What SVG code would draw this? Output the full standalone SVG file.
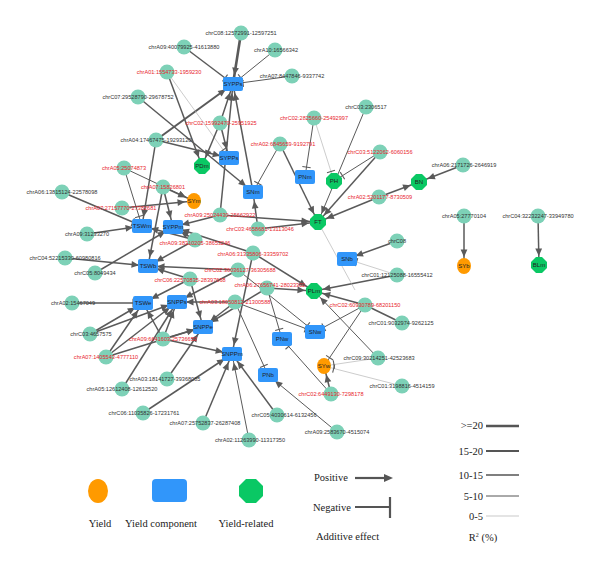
<svg xmlns="http://www.w3.org/2000/svg" width="600" height="569" viewBox="0 0 600 569">
<style>
.e{fill:none;stroke:#5a5a5a}
.w1{stroke-width:0.6;stroke:#aaa}
.w2{stroke-width:1}
.w3{stroke-width:1.5}
.w4{stroke-width:2}
.w5{stroke-width:2.6}
.q{fill:#7dd1b7}
.t{fill:#3196fa}
.g{fill:#0ac864}
.o{fill:#ff9a00}
.lb{font-family:"Liberation Sans",Arial,sans-serif;font-size:5.6px;fill:#333;text-anchor:middle}
.red{fill:#e8242c}
.nl{font-family:"Liberation Sans",Arial,sans-serif;font-size:6px;fill:#222;text-anchor:middle}
.lg{font-family:"Liberation Serif","Times New Roman",serif;font-size:10.5px;fill:#222}
</style>
<defs>
<marker id="ar" markerUnits="userSpaceOnUse" viewBox="-8 -4 20 8" markerWidth="20" markerHeight="8" refX="9" refY="0" orient="auto"><path d="M-7.5,-3.4 L0,0 L-7.5,3.4 Z" fill="#5a5a5a"/></marker>
<marker id="tb" markerUnits="userSpaceOnUse" viewBox="-2 -5 14 10" markerWidth="14" markerHeight="10" refX="10" refY="0" orient="auto"><path d="M0,-4.2 L0,4.2" stroke="#5a5a5a" stroke-width="1.1"/></marker>
</defs>
<g id="connectors">
<line class="e w5" x1="241" y1="33" x2="233" y2="84" marker-end="url(#ar)"/>
<line class="e w3" x1="184" y1="47" x2="233" y2="84" marker-end="url(#tb)"/>
<line class="e w2" x1="275" y1="50" x2="233" y2="84" marker-end="url(#tb)"/>
<line class="e w2" x1="292" y1="76" x2="233" y2="84" marker-end="url(#tb)"/>
<line class="e w4" x1="156" y1="140" x2="233" y2="84" marker-end="url(#ar)"/>
<line class="e w3" x1="220" y1="123" x2="233" y2="84" marker-end="url(#ar)"/>
<line class="e w3" x1="253" y1="192" x2="233" y2="84" marker-end="url(#ar)"/>
<line class="e w3" x1="220" y1="215" x2="233" y2="84" marker-end="url(#ar)"/>
<line class="e w1" x1="167" y1="72" x2="229" y2="158" marker-end="url(#tb)"/>
<line class="e w3" x1="167" y1="72" x2="202" y2="166" marker-end="url(#ar)"/>
<line class="e w3" x1="138" y1="97" x2="253" y2="192" marker-end="url(#ar)"/>
<line class="e w3" x1="156" y1="140" x2="142" y2="226" marker-end="url(#ar)"/>
<line class="e w3" x1="156" y1="140" x2="229" y2="158" marker-end="url(#ar)"/>
<line class="e w3" x1="220" y1="123" x2="202" y2="166" marker-end="url(#ar)"/>
<line class="e w3" x1="220" y1="123" x2="229" y2="158" marker-end="url(#ar)"/>
<line class="e w2" x1="280" y1="144" x2="253" y2="192" marker-end="url(#tb)"/>
<line class="e w3" x1="280" y1="144" x2="318" y2="222" marker-end="url(#ar)"/>
<line class="e w1" x1="314" y1="118" x2="334" y2="181" marker-end="url(#tb)"/>
<line class="e w2" x1="314" y1="118" x2="305" y2="177" marker-end="url(#tb)"/>
<line class="e w2" x1="366" y1="107" x2="318" y2="222" marker-end="url(#ar)"/>
<line class="e w2" x1="380" y1="152" x2="334" y2="181" marker-end="url(#tb)"/>
<line class="e w3" x1="380" y1="152" x2="318" y2="222" marker-end="url(#ar)"/>
<line class="e w3" x1="379" y1="197" x2="419" y2="182" marker-end="url(#ar)"/>
<line class="e w3" x1="379" y1="197" x2="318" y2="222" marker-end="url(#ar)"/>
<line class="e w3" x1="463" y1="165" x2="419" y2="182" marker-end="url(#ar)"/>
<line class="e w3" x1="464" y1="216" x2="464" y2="266" marker-end="url(#ar)"/>
<line class="e w3" x1="538" y1="216" x2="539" y2="265" marker-end="url(#ar)"/>
<line class="e w3" x1="397" y1="241" x2="347" y2="259" marker-end="url(#ar)"/>
<line class="e w3" x1="397" y1="275" x2="314" y2="291" marker-end="url(#ar)"/>
<line class="e w1" x1="397" y1="275" x2="347" y2="259" marker-end="url(#tb)"/>
<line class="e w2" x1="124" y1="168" x2="142" y2="226" marker-end="url(#tb)"/>
<line class="e w2" x1="124" y1="168" x2="194" y2="201" marker-end="url(#ar)"/>
<line class="e w3" x1="62" y1="192" x2="142" y2="226" marker-end="url(#tb)"/>
<line class="e w3" x1="122" y1="208" x2="194" y2="201" marker-end="url(#ar)"/>
<line class="e w3" x1="163" y1="187" x2="173" y2="227" marker-end="url(#ar)"/>
<line class="e w3" x1="163" y1="187" x2="194" y2="201" marker-end="url(#ar)"/>
<line class="e w3" x1="163" y1="187" x2="148" y2="266" marker-end="url(#ar)"/>
<line class="e w3" x1="87" y1="234" x2="142" y2="226" marker-end="url(#ar)"/>
<line class="e w3" x1="65" y1="258" x2="148" y2="266" marker-end="url(#ar)"/>
<line class="e w3" x1="95" y1="273" x2="173" y2="227" marker-end="url(#ar)"/>
<line class="e w3" x1="220" y1="215" x2="318" y2="222" marker-end="url(#ar)"/>
<line class="e w3" x1="220" y1="215" x2="173" y2="227" marker-end="url(#ar)"/>
<line class="e w3" x1="258" y1="229" x2="318" y2="222" marker-end="url(#ar)"/>
<line class="e w3" x1="258" y1="229" x2="253" y2="192" marker-end="url(#ar)"/>
<line class="e w3" x1="195" y1="240" x2="173" y2="227" marker-end="url(#ar)"/>
<line class="e w3" x1="195" y1="240" x2="142" y2="226" marker-end="url(#ar)"/>
<line class="e w3" x1="195" y1="240" x2="148" y2="266" marker-end="url(#ar)"/>
<line class="e w3" x1="253" y1="253" x2="173" y2="227" marker-end="url(#ar)"/>
<line class="e w3" x1="253" y1="253" x2="232" y2="354" marker-end="url(#ar)"/>
<line class="e w3" x1="253" y1="253" x2="314" y2="291" marker-end="url(#ar)"/>
<line class="e w3" x1="238" y1="270" x2="177" y2="302" marker-end="url(#ar)"/>
<line class="e w3" x1="238" y1="270" x2="148" y2="266" marker-end="url(#ar)"/>
<line class="e w2" x1="238" y1="270" x2="315" y2="332" marker-end="url(#tb)"/>
<line class="e w3" x1="190" y1="279" x2="148" y2="266" marker-end="url(#ar)"/>
<line class="e w3" x1="190" y1="279" x2="143" y2="303" marker-end="url(#ar)"/>
<line class="e w3" x1="190" y1="279" x2="203" y2="327" marker-end="url(#ar)"/>
<line class="e w3" x1="267" y1="288" x2="314" y2="291" marker-end="url(#ar)"/>
<line class="e w2" x1="267" y1="288" x2="282" y2="339" marker-end="url(#tb)"/>
<line class="e w3" x1="267" y1="288" x2="203" y2="327" marker-end="url(#ar)"/>
<line class="e w3" x1="235" y1="302" x2="177" y2="302" marker-end="url(#ar)"/>
<line class="e w3" x1="235" y1="302" x2="203" y2="327" marker-end="url(#ar)"/>
<line class="e w2" x1="235" y1="302" x2="315" y2="332" marker-end="url(#tb)"/>
<line class="e w2" x1="235" y1="302" x2="268" y2="375" marker-end="url(#tb)"/>
<line class="e w3" x1="72" y1="303" x2="143" y2="303" marker-end="url(#tb)"/>
<line class="e w3" x1="90" y1="334" x2="143" y2="303" marker-end="url(#ar)"/>
<line class="e w3" x1="90" y1="334" x2="177" y2="302" marker-end="url(#ar)"/>
<line class="e w3" x1="163" y1="339" x2="143" y2="303" marker-end="url(#ar)"/>
<line class="e w3" x1="163" y1="339" x2="177" y2="302" marker-end="url(#ar)"/>
<line class="e w3" x1="163" y1="339" x2="203" y2="327" marker-end="url(#ar)"/>
<line class="e w3" x1="163" y1="339" x2="232" y2="354" marker-end="url(#ar)"/>
<line class="e w3" x1="106" y1="357" x2="143" y2="303" marker-end="url(#ar)"/>
<line class="e w3" x1="106" y1="357" x2="177" y2="302" marker-end="url(#ar)"/>
<line class="e w3" x1="106" y1="357" x2="203" y2="327" marker-end="url(#ar)"/>
<line class="e w3" x1="122" y1="389" x2="177" y2="302" marker-end="url(#ar)"/>
<line class="e w3" x1="167" y1="379" x2="203" y2="327" marker-end="url(#ar)"/>
<line class="e w3" x1="143" y1="413" x2="232" y2="354" marker-end="url(#ar)"/>
<line class="e w3" x1="203" y1="423" x2="232" y2="354" marker-end="url(#ar)"/>
<line class="e w2" x1="249" y1="440" x2="232" y2="354" marker-end="url(#ar)"/>
<line class="e w3" x1="277" y1="415" x2="232" y2="354" marker-end="url(#ar)"/>
<line class="e w2" x1="337" y1="432" x2="268" y2="375" marker-end="url(#ar)"/>
<line class="e w3" x1="331" y1="394" x2="324" y2="366" marker-end="url(#ar)"/>
<line class="e w2" x1="331" y1="394" x2="282" y2="339" marker-end="url(#tb)"/>
<line class="e w1" x1="402" y1="386" x2="324" y2="366" marker-end="url(#tb)"/>
<line class="e w2" x1="378" y1="358" x2="314" y2="291" marker-end="url(#ar)"/>
<line class="e w1" x1="378" y1="358" x2="324" y2="366" marker-end="url(#tb)"/>
<line class="e w3" x1="365" y1="305" x2="314" y2="291" marker-end="url(#ar)"/>
<line class="e w2" x1="365" y1="305" x2="315" y2="332" marker-end="url(#tb)"/>
<line class="e w2" x1="365" y1="305" x2="324" y2="366" marker-end="url(#tb)"/>
<line class="e w3" x1="402" y1="323" x2="365" y2="305"/>
<line class="e w1" x1="318" y1="222" x2="355" y2="290"/>
</g>
<g id="nodes">
<g id="q1"><circle class="q" cx="184" cy="47" r="7.5"/><text class="lb" x="184" y="49">chrA09:40079925-41613880</text></g>
<g id="q2"><circle class="q" cx="241" cy="33" r="7.5"/><text class="lb" x="241" y="35">chrC08:12572991-12597251</text></g>
<g id="q3"><circle class="q" cx="275" cy="50" r="7.5"/><text class="lb" x="276" y="52">chrA10:16566342</text></g>
<g id="q4"><circle class="q" cx="292" cy="76" r="7.5"/><text class="lb" x="292" y="78">chrA07:8447846-9337742</text></g>
<g id="q5"><circle class="q" cx="167" cy="72" r="7.5"/><text class="lb red" x="169" y="74">chrA01:1554733-1959230</text></g>
<g id="q6"><circle class="q" cx="138" cy="97" r="7.5"/><text class="lb" x="138" y="99">chrC07:29528790-29678752</text></g>
<g id="q7"><circle class="q" cx="220" cy="123" r="7.5"/><text class="lb red" x="221" y="125">chrC02:15992470-25951925</text></g>
<g id="q8"><circle class="q" cx="314" cy="118" r="7.5"/><text class="lb red" x="314" y="120">chrC02:2825660-25492997</text></g>
<g id="q9"><circle class="q" cx="366" cy="107" r="7.5"/><text class="lb" x="366" y="109">chrC03:2306517</text></g>
<g id="q10"><circle class="q" cx="156" cy="140" r="7.5"/><text class="lb" x="156" y="142">chrA04:17467475-19293120</text></g>
<g id="q11"><circle class="q" cx="280" cy="144" r="7.5"/><text class="lb red" x="283" y="146">chrA02:6845659-9192791</text></g>
<g id="q12"><circle class="q" cx="380" cy="152" r="7.5"/><text class="lb red" x="380" y="154">chrC03:5122062-6060156</text></g>
<g id="q13"><circle class="q" cx="463" cy="165" r="7.5"/><text class="lb" x="464" y="167">chrA06:2171726-2646919</text></g>
<g id="q14"><circle class="q" cx="124" cy="168" r="7.5"/><text class="lb red" x="124" y="170">chrA05:25074873</text></g>
<g id="q15"><circle class="q" cx="163" cy="187" r="7.5"/><text class="lb red" x="163" y="189">chrA07:15826801</text></g>
<g id="q16"><circle class="q" cx="62" cy="192" r="7.5"/><text class="lb" x="62" y="194">chrA06:13815124-22578098</text></g>
<g id="q17"><circle class="q" cx="379" cy="197" r="7.5"/><text class="lb red" x="380" y="199">chrA02:5201177-8730509</text></g>
<g id="q18"><circle class="q" cx="122" cy="208" r="7.5"/><text class="lb red" x="121" y="210">chrA07:27157770-27382681</text></g>
<g id="q19"><circle class="q" cx="220" cy="215" r="7.5"/><text class="lb red" x="220" y="217">chrA09:25024430-25662922</text></g>
<g id="q20"><circle class="q" cx="464" cy="216" r="7.5"/><text class="lb" x="464" y="218">chrA05:27770104</text></g>
<g id="q21"><circle class="q" cx="538" cy="216" r="7.5"/><text class="lb" x="538" y="218">chrC04:32232247-33949780</text></g>
<g id="q22"><circle class="q" cx="258" cy="229" r="7.5"/><text class="lb red" x="260" y="231">chrC03:4658681-13113046</text></g>
<g id="q23"><circle class="q" cx="87" cy="234" r="7.5"/><text class="lb" x="87" y="236">chrA09:31233270</text></g>
<g id="q24"><circle class="q" cx="195" cy="240" r="7.5"/><text class="lb red" x="195" y="245">chrA09:38310205-38653246</text></g>
<g id="q25"><circle class="q" cx="397" cy="241" r="7.5"/><text class="lb" x="397" y="243">chrC08</text></g>
<g id="q26"><circle class="q" cx="253" cy="253" r="7.5"/><text class="lb red" x="253" y="256">chrA06:31335806-33359702</text></g>
<g id="q27"><circle class="q" cx="65" cy="258" r="7.5"/><text class="lb" x="65" y="260">chrC04:52215330-60980816</text></g>
<g id="q28"><circle class="q" cx="95" cy="273" r="7.5"/><text class="lb" x="95" y="275">chrC05:8049434</text></g>
<g id="q29"><circle class="q" cx="238" cy="270" r="7.5"/><text class="lb red" x="240" y="272">chrC02:36036127-36305688</text></g>
<g id="q30"><circle class="q" cx="397" cy="275" r="7.5"/><text class="lb" x="397" y="277">chrC01:12125088-16555412</text></g>
<g id="q31"><circle class="q" cx="190" cy="279" r="7.5"/><text class="lb red" x="190" y="282">chrC06:22570835-28397668</text></g>
<g id="q32"><circle class="q" cx="267" cy="288" r="7.5"/><text class="lb red" x="270" y="287">chrA06:27656741-28023302</text></g>
<g id="q33"><circle class="q" cx="72" cy="303" r="7.5"/><text class="lb" x="73" y="305">chrA02:15467049</text></g>
<g id="q34"><circle class="q" cx="235" cy="302" r="7.5"/><text class="lb red" x="235" y="304">chrA03:18050812-21300588</text></g>
<g id="q35"><circle class="q" cx="365" cy="305" r="7.5"/><text class="lb red" x="365" y="307">chrC02:60930789-68201150</text></g>
<g id="q36"><circle class="q" cx="402" cy="323" r="7.5"/><text class="lb" x="401" y="325">chrC01:9032974-9262125</text></g>
<g id="q37"><circle class="q" cx="90" cy="334" r="7.5"/><text class="lb" x="91" y="336">chrC03:4657575</text></g>
<g id="q38"><circle class="q" cx="163" cy="339" r="7.5"/><text class="lb red" x="163" y="341">chrA09:6641603-25736652</text></g>
<g id="q39"><circle class="q" cx="106" cy="357" r="7.5"/><text class="lb red" x="106" y="359">chrA07:1405543-4777110</text></g>
<g id="q40"><circle class="q" cx="378" cy="358" r="7.5"/><text class="lb" x="379" y="360">chrC09:30214251-42523683</text></g>
<g id="q41"><circle class="q" cx="167" cy="379" r="7.5"/><text class="lb" x="165" y="381">chrA03:18141727-39368085</text></g>
<g id="q42"><circle class="q" cx="402" cy="386" r="7.5"/><text class="lb" x="402" y="388">chrC01:3198816-4514159</text></g>
<g id="q43"><circle class="q" cx="122" cy="389" r="7.5"/><text class="lb" x="122" y="391">chrA05:12612408-12612520</text></g>
<g id="q44"><circle class="q" cx="331" cy="394" r="7.5"/><text class="lb red" x="331" y="396">chrC02:6449130-7298178</text></g>
<g id="q45"><circle class="q" cx="143" cy="413" r="7.5"/><text class="lb" x="144" y="415">chrC06:11035826-17231761</text></g>
<g id="q46"><circle class="q" cx="277" cy="415" r="7.5"/><text class="lb" x="284" y="417">chrC05:4030614-6132456</text></g>
<g id="q47"><circle class="q" cx="203" cy="423" r="7.5"/><text class="lb" x="205" y="425">chrA07:25752837-26287408</text></g>
<g id="q48"><circle class="q" cx="337" cy="432" r="7.5"/><text class="lb" x="337" y="434">chrA09:2583670-4515074</text></g>
<g id="q49"><circle class="q" cx="249" cy="440" r="7.5"/><text class="lb" x="250" y="442">chrA02:11263990-11317350</text></g>
<g id="SYPPs1"><rect class="t" x="223" y="77" width="20" height="14" rx="2"/><text class="nl" x="233" y="86">SYPPs</text></g>
<g id="SYPPs2"><rect class="t" x="219" y="151" width="20" height="14" rx="2"/><text class="nl" x="229" y="160">SYPPs</text></g>
<g id="SNm"><rect class="t" x="243" y="185" width="20" height="14" rx="2"/><text class="nl" x="253" y="194">SNm</text></g>
<g id="PNm"><rect class="t" x="295" y="170" width="20" height="14" rx="2"/><text class="nl" x="305" y="179">PNm</text></g>
<g id="TSWm"><rect class="t" x="132" y="219" width="20" height="14" rx="2"/><text class="nl" x="142" y="228">TSWm</text></g>
<g id="SYPPm"><rect class="t" x="163" y="220" width="20" height="14" rx="2"/><text class="nl" x="173" y="229">SYPPm</text></g>
<g id="TSWb"><rect class="t" x="138" y="259" width="20" height="14" rx="2"/><text class="nl" x="148" y="268">TSWb</text></g>
<g id="TSWe"><rect class="t" x="133" y="296" width="20" height="14" rx="2"/><text class="nl" x="143" y="305">TSWe</text></g>
<g id="SNPPs"><rect class="t" x="167" y="295" width="20" height="14" rx="2"/><text class="nl" x="177" y="304">SNPPs</text></g>
<g id="SNPPe"><rect class="t" x="193" y="320" width="20" height="14" rx="2"/><text class="nl" x="203" y="329">SNPPe</text></g>
<g id="SNPPm"><rect class="t" x="222" y="347" width="20" height="14" rx="2"/><text class="nl" x="232" y="356">SNPPm</text></g>
<g id="PNw"><rect class="t" x="272" y="332" width="20" height="14" rx="2"/><text class="nl" x="282" y="341">PNw</text></g>
<g id="SNw"><rect class="t" x="305" y="325" width="20" height="14" rx="2"/><text class="nl" x="315" y="334">SNw</text></g>
<g id="PNb"><rect class="t" x="258" y="368" width="20" height="14" rx="2"/><text class="nl" x="268" y="377">PNb</text></g>
<g id="SNb"><rect class="t" x="337" y="252" width="20" height="14" rx="2"/><text class="nl" x="347" y="261">SNb</text></g>
<g id="PDm"><polygon class="g" points="199,158 205,158 210,163 210,169 205,174 199,174 194,169 194,163"/><text class="nl" x="202" y="168">PDm</text></g>
<g id="PH"><polygon class="g" points="331,173 337,173 342,178 342,184 337,189 331,189 326,184 326,178"/><text class="nl" x="334" y="183">PH</text></g>
<g id="BN"><polygon class="g" points="416,174 422,174 427,179 427,185 422,190 416,190 411,185 411,179"/><text class="nl" x="419" y="184">BN</text></g>
<g id="FT"><polygon class="g" points="315,214 321,214 326,219 326,225 321,230 315,230 310,225 310,219"/><text class="nl" x="318" y="224">FT</text></g>
<g id="PLm"><polygon class="g" points="311,283 317,283 322,288 322,294 317,299 311,299 306,294 306,288"/><text class="nl" x="314" y="293">PLm</text></g>
<g id="BLm"><polygon class="g" points="536,257 542,257 547,262 547,268 542,273 536,273 531,268 531,262"/><text class="nl" x="539" y="267">BLm</text></g>
<g id="SYm"><ellipse class="o" cx="194" cy="201" rx="7" ry="8"/><text class="nl" x="194" y="203">SYm</text></g>
<g id="SYw"><ellipse class="o" cx="324" cy="366" rx="7" ry="8"/><text class="nl" x="324" y="368">SYw</text></g>
<g id="SYb"><ellipse class="o" cx="464" cy="266" rx="7" ry="8"/><text class="nl" x="464" y="268">SYb</text></g>
</g>
<g id="legend">
<ellipse class="o" cx="98" cy="491" rx="10" ry="12"/>
<rect class="t" x="152" y="479" width="35" height="23" rx="4"/>
<polygon class="g" points="246,479 256,479 263,486 263,496 256,503 246,503 239,496 239,486"/>
<text class="lg" x="100" y="527" text-anchor="middle">Yield</text>
<text class="lg" x="161" y="527" text-anchor="middle">Yield component</text>
<text class="lg" x="246" y="527" text-anchor="middle">Yield-related</text>
<text class="lg" x="314" y="481">Positive</text>
<line x1="355" y1="478" x2="386" y2="478" stroke="#555" stroke-width="2.2"/>
<path d="M384,474 L393,478 L384,482 Z" fill="#555"/>
<text class="lg" x="313" y="511">Negative</text>
<line x1="355" y1="507" x2="390" y2="507" stroke="#555" stroke-width="2.2"/>
<line x1="390" y1="497" x2="390" y2="518" stroke="#555" stroke-width="2.2"/>
<text class="lg" x="316" y="540">Additive effect</text>
<text class="lg" x="483" y="429" text-anchor="end">&gt;=20</text>
<line x1="486" y1="426" x2="519" y2="426" stroke="#555" stroke-width="2.6"/>
<text class="lg" x="483" y="455" text-anchor="end">15-20</text>
<line x1="486" y1="451" x2="519" y2="451" stroke="#555" stroke-width="2"/>
<text class="lg" x="483" y="479" text-anchor="end">10-15</text>
<line x1="486" y1="475" x2="519" y2="475" stroke="#555" stroke-width="1.5"/>
<text class="lg" x="483" y="500" text-anchor="end">5-10</text>
<line x1="486" y1="496" x2="519" y2="496" stroke="#555" stroke-width="1"/>
<text class="lg" x="483" y="520" text-anchor="end">0-5</text>
<line x1="486" y1="516" x2="519" y2="516" stroke="#bbb" stroke-width="0.8"/>
<text class="lg" x="483" y="541" text-anchor="middle">R<tspan font-size="6" dy="-4">2</tspan><tspan dy="4"> (%)</tspan></text>
</g>
</svg>
